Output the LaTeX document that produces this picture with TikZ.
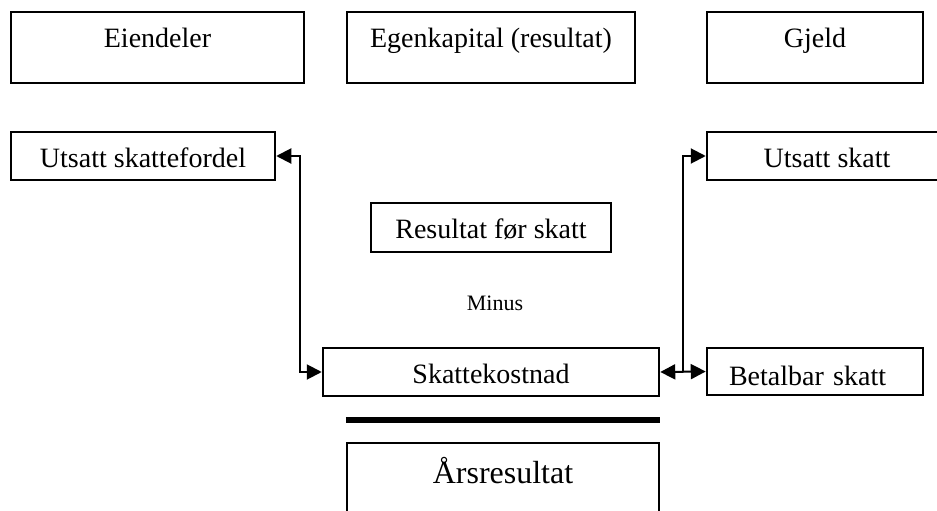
\documentclass[tikz,border=0pt]{standalone}
\usepackage{fontspec}
\setmainfont{Liberation Serif}
\usetikzlibrary{arrows.meta,calc}
\begin{document}
\begin{tikzpicture}[x=1pt,y=-1pt,
  box/.style={draw, line width=2.5pt, rectangle, inner sep=0pt,
    font=\fontsize{28}{32}\selectfont},
  topbox/.style={box, minimum height=71pt, text height=10pt, text depth=10pt},
  midbox/.style={box, minimum height=48pt, text height=22pt, text depth=0pt},
  link/.style={line width=2pt},
  >={Triangle[length=15pt,width=15pt]},
]
\useasboundingbox (0,0) rectangle (937,511);
\clip (0,0) rectangle (937,511);

% balance sheet headings
\node[topbox, minimum width=293pt] (eien) at (157.5,47.5) {Eiendeler};
\node[topbox, minimum width=288pt] (egen) at (491,47.5) {Egenkapital (resultat)};
\node[topbox, minimum width=216pt] (gjeld) at (815,47.5) {Gjeld};

% deferred tax items
\node[midbox, minimum width=264pt] (usf) at (143,156) {Utsatt skattefordel};
\node[midbox, minimum width=240pt] (us) at (827,156) {Utsatt skatt};

% income statement
\node[midbox, minimum width=240pt, minimum height=49pt] (rfs) at (491,227.5) {Resultat før skatt};
\node[anchor=base, inner sep=0pt, font=\fontsize{22}{26}\selectfont] (minus) at (495,310) {Minus};
\node[midbox, minimum width=336pt] (sk) at (491,372) {Skattekostnad};
\node[midbox, minimum width=216pt, minimum height=47pt, text width=172pt, align=left,
  text height=27pt] (bs) at (815,371.5) {Betalbar skatt};
\node[box, minimum width=312pt, minimum height=80pt, text height=12pt, text depth=12pt,
  font=\fontsize{32}{36}\selectfont] (ars) at (503,483) {Årsresultat};

% summation rule
\draw[line width=6pt] (ars.west |- 0,420) -- (ars.east |- 0,420);

% connectors
\draw[link, <->] (usf.east) -- ++(24,0) |- (sk.west);
\coordinate (j) at ($(sk.east)!0.5!(bs.west)$);
\draw[link, <->] (sk.east) -- (bs.west);
\draw[link, ->] (j) |- (us.west);
\end{tikzpicture}
\end{document}
